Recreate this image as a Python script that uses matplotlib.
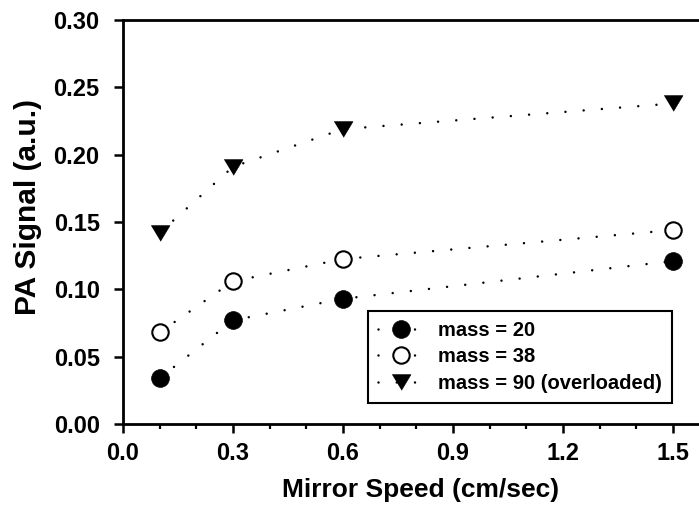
import matplotlib
matplotlib.use("Agg")
import matplotlib.pyplot as plt
from matplotlib.ticker import MultipleLocator, FormatStrFormatter

plt.rcParams['font.family'] = ['Liberation Sans', 'DejaVu Sans']
plt.rcParams['font.weight'] = 'bold'

speed = [0.1, 0.3, 0.6, 1.5]
mass20 = [0.034, 0.077, 0.093, 0.121]
mass38 = [0.068, 0.106, 0.1225, 0.144]
mass90 = [0.142, 0.191, 0.219, 0.238]
labels = ["mass = 20", "mass = 38", "mass = 90 (overloaded)"]

fig = plt.figure(figsize=(6.99, 5.08), dpi=100)
ax = fig.add_axes([123/699, 1-424/508, 1-123/699, (424-20)/508])

tri = [(-1, 0.83), (1, 0.83), (0, -0.83)]
lw = 1.8
ls = (0, (0.001, 7.3))
common = dict(color='black', lw=lw, linestyle=ls, dash_capstyle='round')

ax.plot(speed, mass20, marker='o', ms=12.8, mfc='black', mec='black', mew=0.5,
        label=labels[0], **common)
ax.plot(speed, mass38, marker='o', ms=11.8, mfc='white', mec='black', mew=1.5,
        label=labels[1], **common)
ax.plot(speed, mass90, marker=tri, ms=13.5, mfc='black', mec='black', mew=0.5,
        label=labels[2], **common)

ax.set_xlim(0, (699-123)/(110/0.3))
ax.set_ylim(0, 0.30)
ax.xaxis.set_major_locator(MultipleLocator(0.3))
ax.xaxis.set_minor_locator(MultipleLocator(0.1))
ax.xaxis.set_major_formatter(FormatStrFormatter('%.1f'))
ax.yaxis.set_major_locator(MultipleLocator(0.05))
ax.yaxis.set_major_formatter(FormatStrFormatter('%.2f'))

for s in ['left', 'bottom', 'top']:
    ax.spines[s].set_linewidth(2.0)
ax.spines['right'].set_visible(False)

ax.tick_params(axis='both', which='major', direction='out', length=6.8, width=1.8,
               labelsize=17)
ax.tick_params(axis='x', which='major', pad=6.5)
ax.tick_params(axis='y', which='major', pad=10)
ax.tick_params(axis='x', which='minor', direction='out', length=3.6, width=1.6)
ax.tick_params(top=False, right=False, which='both')

ax.set_xlabel("Mirror Speed (cm/sec)", fontsize=19, fontweight='bold')
ax.set_ylabel("PA Signal (a.u.)", fontsize=21.5, fontweight='bold')
ax.xaxis.set_label_coords((421-123)/576, (424-478)/404)
ax.yaxis.set_label_coords((42-123)/576, (424-207)/404)

leg = ax.legend(loc='lower right', bbox_to_anchor=(672/699, 1-403/508),
                bbox_transform=fig.transFigure, fontsize=14.5, frameon=True,
                fancybox=False, edgecolor='black', framealpha=1,
                handlelength=2.3, handletextpad=0.7, borderpad=0.5,
                labelspacing=0.37, borderaxespad=0)
leg.get_frame().set_linewidth(1.5)

fig.savefig("out.png", dpi=100)
